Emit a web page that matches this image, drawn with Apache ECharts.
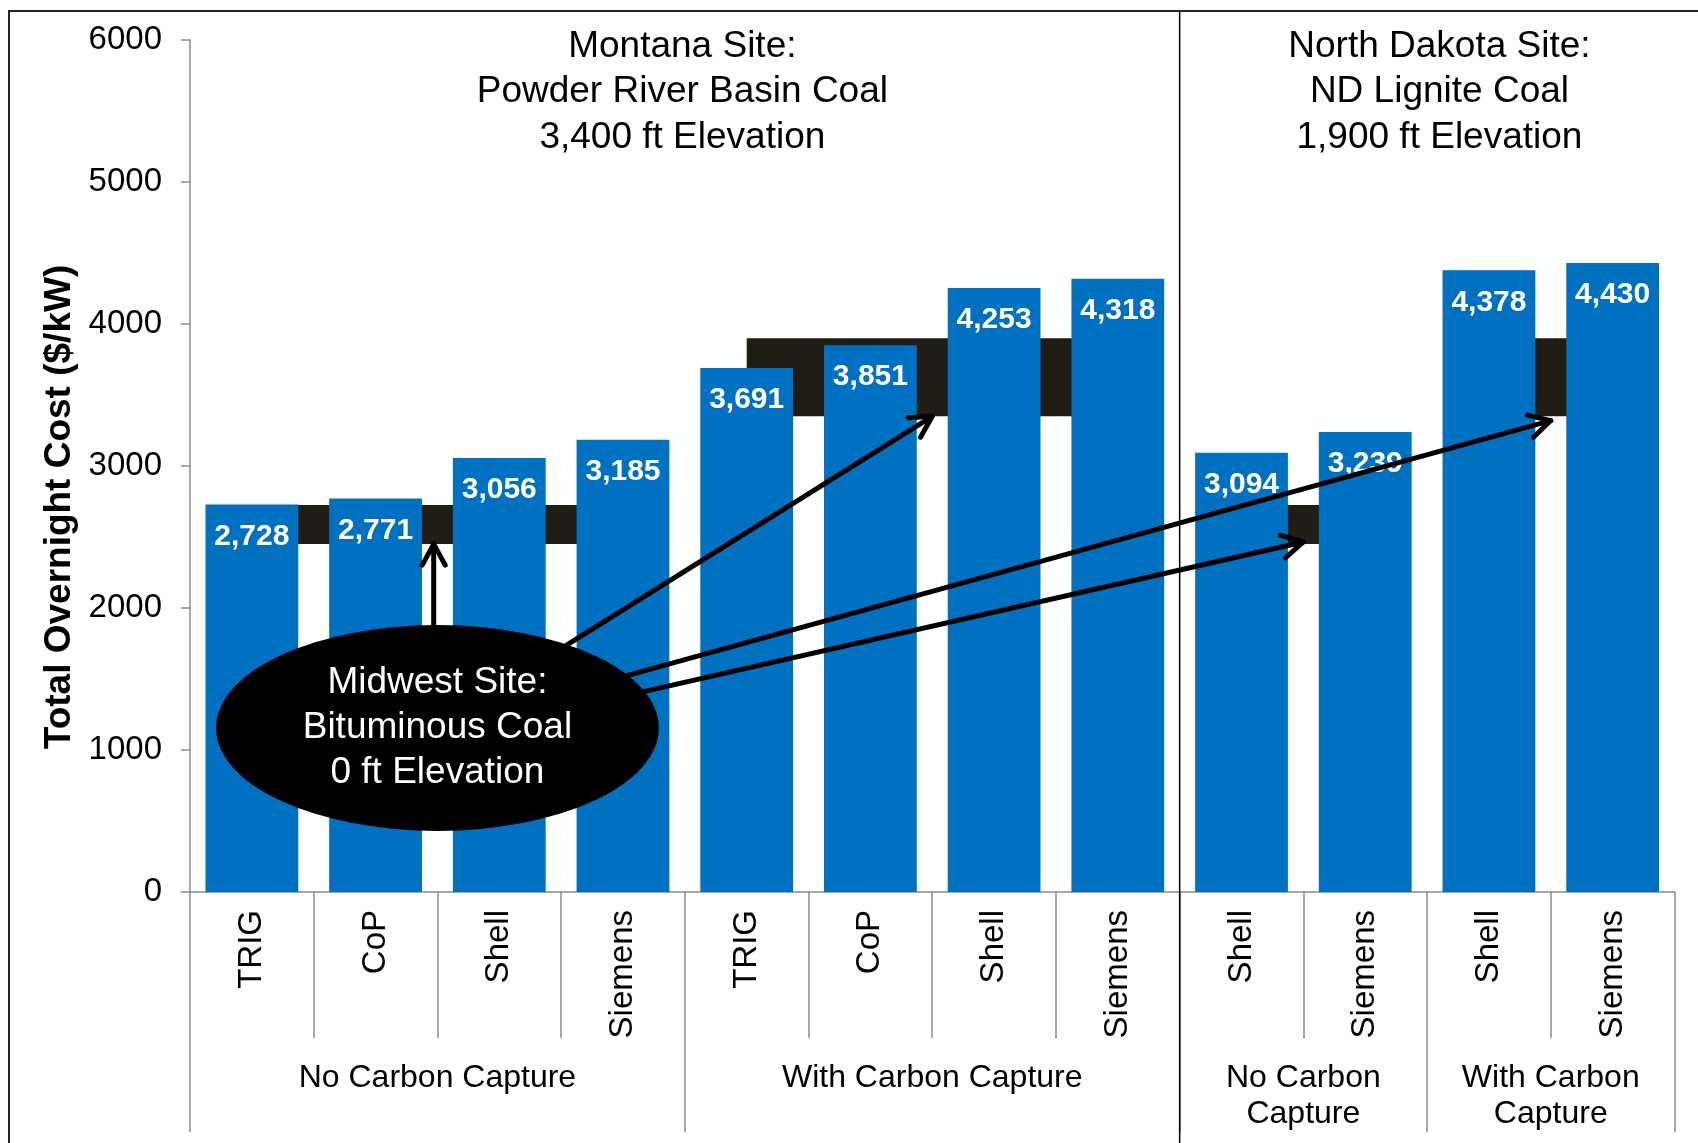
<!DOCTYPE html>
<html>
<head>
<meta charset="utf-8">
<script src="https://cdn.jsdelivr.net/npm/echarts@6/dist/echarts.min.js"></script>
<style>
  html, body { margin: 0; padding: 0; background: #fff; }
  #chart { width: 1698px; height: 1143px; }
</style>
</head>
<body>
<div id="chart"></div>
<script>
// ---- data -------------------------------------------------------------
const techLabels = ['TRIG', 'CoP', 'Shell', 'Siemens', 'TRIG', 'CoP', 'Shell', 'Siemens',
                    'Shell', 'Siemens', 'Shell', 'Siemens'];
const totalCost = [2728, 2771, 3056, 3185, 3691, 3851, 4253, 4318, 3094, 3239, 4378, 4430];

// capture groups along the category axis (boundaries and label centres, in category units)
const groupLabels = ['No Carbon Capture', 'With Carbon Capture', 'No Carbon\nCapture', 'With Carbon\nCapture'];
const groupCenters = [2, 6, 9, 11];
const groupBounds = [0, 4, 8, 10, 12];

// value axis
const yMin = 0, yMax = 6000, yStep = 1000;

// Midwest reference ranges: [first category, last category, low, high]
const midwestBands = [
  [0, 3, 2450, 2725],
  [4, 7, 3350, 3900],
  [8, 9, 2450, 2725],
  [10, 11, 3350, 3900]
];

// site headings and where each site block is centred / divided
const montanaTitle = ['Montana Site:', 'Powder River Basin Coal', '3,400 ft Elevation'];
const dakotaTitle = ['North Dakota Site:', 'ND Lignite Coal', '1,900 ft Elevation'];
const siteCenters = [3.98, 10.1];
const siteDivider = 8;

// Midwest callout: centre [x, y] and half-extent [dx, dy] in axis units
const midwestNote = ['Midwest Site:', 'Bituminous Coal', '0 ft Elevation'];
const noteEllipse = [[2, 1155, 1.79, 725]];

// callout arrows: [x from, y from, x to, y to] in axis units
const noteArrows = [
  [1.97, 1600, 1.97, 2450],
  [2.67, 1535, 6, 3350],
  [2.99, 1393, 11, 3320],
  [2.99, 1277, 9, 2465]
];

// ---- chart ------------------------------------------------------------
const FONT = '"Liberation Sans", Arial, Helvetica, sans-serif';
const BLUE = '#0070C0';
const BAND = '#201D14';
const AXIS_GREY = '#8C8C8C';

const chart = echarts.init(document.getElementById('chart'), null, { renderer: 'canvas' });

function arrowItem(params, api) {
  const a = api.coord([api.value(0), api.value(1)]);
  const b = api.coord([api.value(2), api.value(3)]);
  const ang = Math.atan2(b[1] - a[1], b[0] - a[0]);
  const L = 24, th = 0.5;
  const h1 = [b[0] - L * Math.cos(ang - th), b[1] - L * Math.sin(ang - th)];
  const h2 = [b[0] - L * Math.cos(ang + th), b[1] - L * Math.sin(ang + th)];
  const st = { stroke: '#000', lineWidth: 5, lineCap: 'round', lineJoin: 'round', fill: null };
  return {
    type: 'group',
    children: [
      { type: 'line', shape: { x1: a[0], y1: a[1], x2: b[0], y2: b[1] }, style: st },
      { type: 'polyline', shape: { points: [h1, b, h2] }, style: st }
    ]
  };
}

function ellipseItem(params, api) {
  const c = api.coord([api.value(0), api.value(1)]);
  const e = api.coord([api.value(0) + api.value(2), api.value(1) + api.value(3)]);
  const rx = e[0] - c[0], ry = c[1] - e[1];
  return {
    type: 'group',
    children: [
      { type: 'circle', x: c[0], y: c[1], scaleX: rx / ry, shape: { cx: 0, cy: 0, r: ry },
        style: { fill: '#000' } },
      { type: 'text', x: c[0], y: c[1],
        style: { text: midwestNote.join('\n'), fill: '#fff', font: '37px ' + FONT,
                 align: 'center', verticalAlign: 'middle', lineHeight: 44.7 } }
    ]
  };
}

function bandItem(params, api) {
  const p0 = api.coord([api.value(0) + 0.5, api.value(3)]);
  const p1 = api.coord([api.value(1) + 0.5, api.value(2)]);
  return {
    type: 'rect',
    shape: { x: p0[0], y: p0[1], width: p1[0] - p0[0], height: p1[1] - p0[1] },
    style: { fill: BAND }
  };
}

const option = {
  animation: false,
  backgroundColor: '#fff',
  textStyle: { fontFamily: FONT },
  grid: { left: 190, right: 23.5, top: 40, bottom: 251 },
  xAxis: [
    {
      type: 'category',
      data: techLabels.map((_, i) => String(i)),
      axisLine: { show: true, lineStyle: { color: AXIS_GREY, width: 1.5 } },
      axisTick: { show: true, interval: 0, length: 146, lineStyle: { color: AXIS_GREY, width: 1.5 } },
      axisLabel: {
        interval: 0, rotate: 90, margin: 18, fontSize: 33, color: '#000', fontFamily: FONT,
        formatter: (v, i) => techLabels[i]
      }
    },
    {
      type: 'value',
      position: 'bottom',
      min: 0, max: 12,
      offset: 146,
      axisLine: { show: false },
      splitLine: { show: false },
      axisTick: { show: true, length: 94, customValues: groupBounds,
                  lineStyle: { color: AXIS_GREY, width: 1.5 } },
      axisLabel: {
        customValues: groupCenters, margin: 22, fontSize: 32, lineHeight: 36, color: '#000',
        fontFamily: FONT, align: 'center', verticalAlign: 'top',
        formatter: (v) => groupLabels[groupCenters.indexOf(v)]
      }
    }
  ],
  yAxis: {
    type: 'value',
    min: yMin, max: yMax, interval: yStep,
    axisLine: { show: true, lineStyle: { color: AXIS_GREY, width: 1.5 } },
    axisTick: { show: true, length: 9, lineStyle: { color: AXIS_GREY, width: 1.5 } },
    splitLine: { show: false },
    axisLabel: { margin: 28, fontSize: 33, color: '#000', fontFamily: FONT,
                 formatter: (v) => String(v) }
  },
  series: [
    {
      type: 'custom',
      name: 'Midwest range',
      xAxisIndex: 1,
      z: 1,
      renderItem: bandItem,
      encode: { x: [0, 1], y: [2, 3] },
      data: midwestBands
    },
    {
      type: 'bar',
      name: 'Total Overnight Cost',
      xAxisIndex: 0,
      z: 2,
      barCategoryGap: '25%',
      itemStyle: { color: BLUE },
      label: {
        show: true, position: 'insideTop', distance: 17, color: '#fff',
        fontWeight: 'bold', fontSize: 30, fontFamily: FONT,
        formatter: (p) => p.value.toLocaleString('en-US')
      },
      data: totalCost
    },
    {
      type: 'custom',
      name: 'Callout arrows',
      xAxisIndex: 1,
      z: 3,
      renderItem: arrowItem,
      encode: { x: [0, 2], y: [1, 3] },
      data: noteArrows
    },
    {
      type: 'custom',
      name: 'Midwest callout',
      xAxisIndex: 1,
      z: 4,
      renderItem: ellipseItem,
      encode: { x: [0], y: [1] },
      data: noteEllipse
    }
  ]
};

chart.setOption(option);

// frame, site divider, headings and axis title placed from the axes
const divX = chart.convertToPixel({ xAxisIndex: 1 }, siteDivider);
const titleXs = siteCenters.map(c => chart.convertToPixel({ xAxisIndex: 1 }, c));
const yMid = (chart.convertToPixel({ yAxisIndex: 0 }, yMin) + chart.convertToPixel({ yAxisIndex: 0 }, yMax)) / 2;

chart.setOption({
  graphic: [
    { type: 'rect', z: 10, shape: { x: 9, y: 11, width: 1760, height: 1200 },
      style: { fill: null, stroke: '#262626', lineWidth: 2 } },
    { type: 'line', z: 10, shape: { x1: divX, y1: 11, x2: divX, y2: 1143 },
      style: { stroke: '#000', lineWidth: 1.5 } },
    { type: 'text', z: 10, x: titleXs[0], y: 24,
      style: { text: montanaTitle.join('\n'), font: '37px ' + FONT, fill: '#000',
               align: 'center', verticalAlign: 'top', lineHeight: 45.5 } },
    { type: 'text', z: 10, x: titleXs[1], y: 24,
      style: { text: dakotaTitle.join('\n'), font: '37px ' + FONT, fill: '#000',
               align: 'center', verticalAlign: 'top', lineHeight: 45.5 } },
    { type: 'text', z: 10, x: 60, y: yMid + 41, rotation: Math.PI / 2,
      style: { text: 'Total Overnight Cost ($/kW)', font: 'bold 37px ' + FONT, fill: '#000',
               align: 'center', verticalAlign: 'middle' } }
  ]
});
</script>
</body>
</html>
